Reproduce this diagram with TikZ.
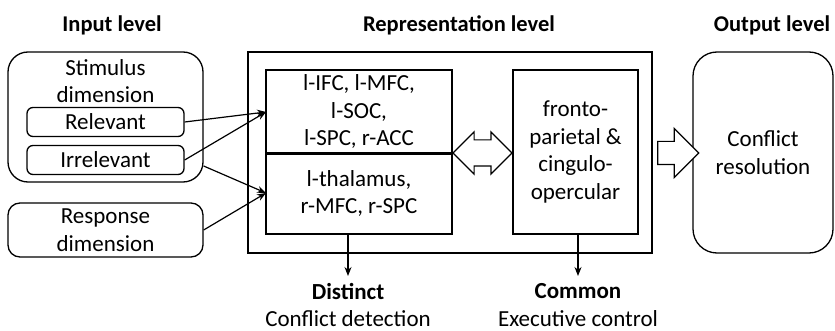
\documentclass[tikz,border=0pt]{standalone}
\usepackage{fontspec}
\setmainfont{Carlito}
\usetikzlibrary{arrows.meta,shapes.arrows}

\begin{document}
\begin{tikzpicture}[x=1pt,y=-1pt,
    every node/.style = {align=center, inner sep=0pt,
      font=\fontsize{23}{27.5}\selectfont},
    title/.style = {font=\fontsize{22.5}{27}\selectfont\bfseries},
    inbox/.style = {draw, line width=1.3pt, rounded corners=12pt},
    roibox/.style = {draw, line width=1.3pt},
    link/.style = {-{Stealth[length=9pt,width=7pt]}, line width=1.2pt},
    blockarrow/.style = {draw, line width=1.2pt, fill=white}]
  \useasboundingbox (0,0) rectangle (835,331);

  % titles
  \node[title] (tin) at (112,25) {Input level};
  \node[title] (trep) at (459,25) {Representation level};
  \node[title] (tout) at (772,25) {Output level};

  % input level
  \node[inbox, rounded corners=20pt, minimum width=195pt, minimum height=130pt] (stim) at (105.5,117) {};
  \node (stimtxt) at (105.5,81) {Stimulus\\dimension};
  \node[inbox, rounded corners=6pt, minimum width=157pt, minimum height=29pt] (rel) at (105.5,122) {Relevant};
  \node[inbox, rounded corners=6pt, minimum width=157pt, minimum height=29pt] (irr) at (105.5,160) {Irrelevant};
  \node[inbox, minimum width=195pt, minimum height=54pt] (resp) at (105.5,230) {Response\\dimension};

  % representation level
  \node[roibox, minimum width=404pt, minimum height=201pt] (rep) at (450,152.5) {};
  \node[roibox, minimum width=186pt, minimum height=83pt] (top) at (359,111.5) {l-IFC, l-MFC,\\l-SOC,\\l-SPC, r-ACC};
  \node[roibox, minimum width=186pt, minimum height=81pt] (low) at (359,193.5) {l-thalamus,\\r-MFC, r-SPC};
  \draw[line width=2.4pt] (top.south west) -- (top.south east);
  \node[roibox, minimum width=125pt, minimum height=164pt] (exec) at (575.5,152) {fronto-\\parietal \&\\cingulo-\\opercular};

  % output level
  \node[inbox, rounded corners=24pt, minimum width=140pt, minimum height=201pt] (res) at (763,152.5) {Conflict\\resolution};

  % block arrows
  \node[blockarrow, double arrow, minimum height=59pt, inner sep=12.5pt,
    double arrow head extend=8pt] (dbl) at (482.5,153) {};
  \node[blockarrow, single arrow, minimum height=41pt, inner sep=11pt,
    single arrow head extend=13pt] (sgl) at (672.5,153) {};

  % input links
  \coordinate (topin) at (266,112);
  \coordinate (lowin) at (266,193);
  \draw[link] (rel.east) -- (topin);
  \draw[link] (irr.east) -- (topin);
  \draw[link] (stim.east |- 0,166) -- (lowin);
  \draw[link] (resp.east) -- (lowin);

  % outputs
  \node (dist) at (348,305) {\textbf{Distinct}\\Conflict detection};
  \node (comm) at (578,305) {\textbf{Common}\\Executive control};
  \draw[link] (low.south -| dist) -- (348,276);
  \draw[link] (exec.south -| comm) -- (578,276);
\end{tikzpicture}
\end{document}
